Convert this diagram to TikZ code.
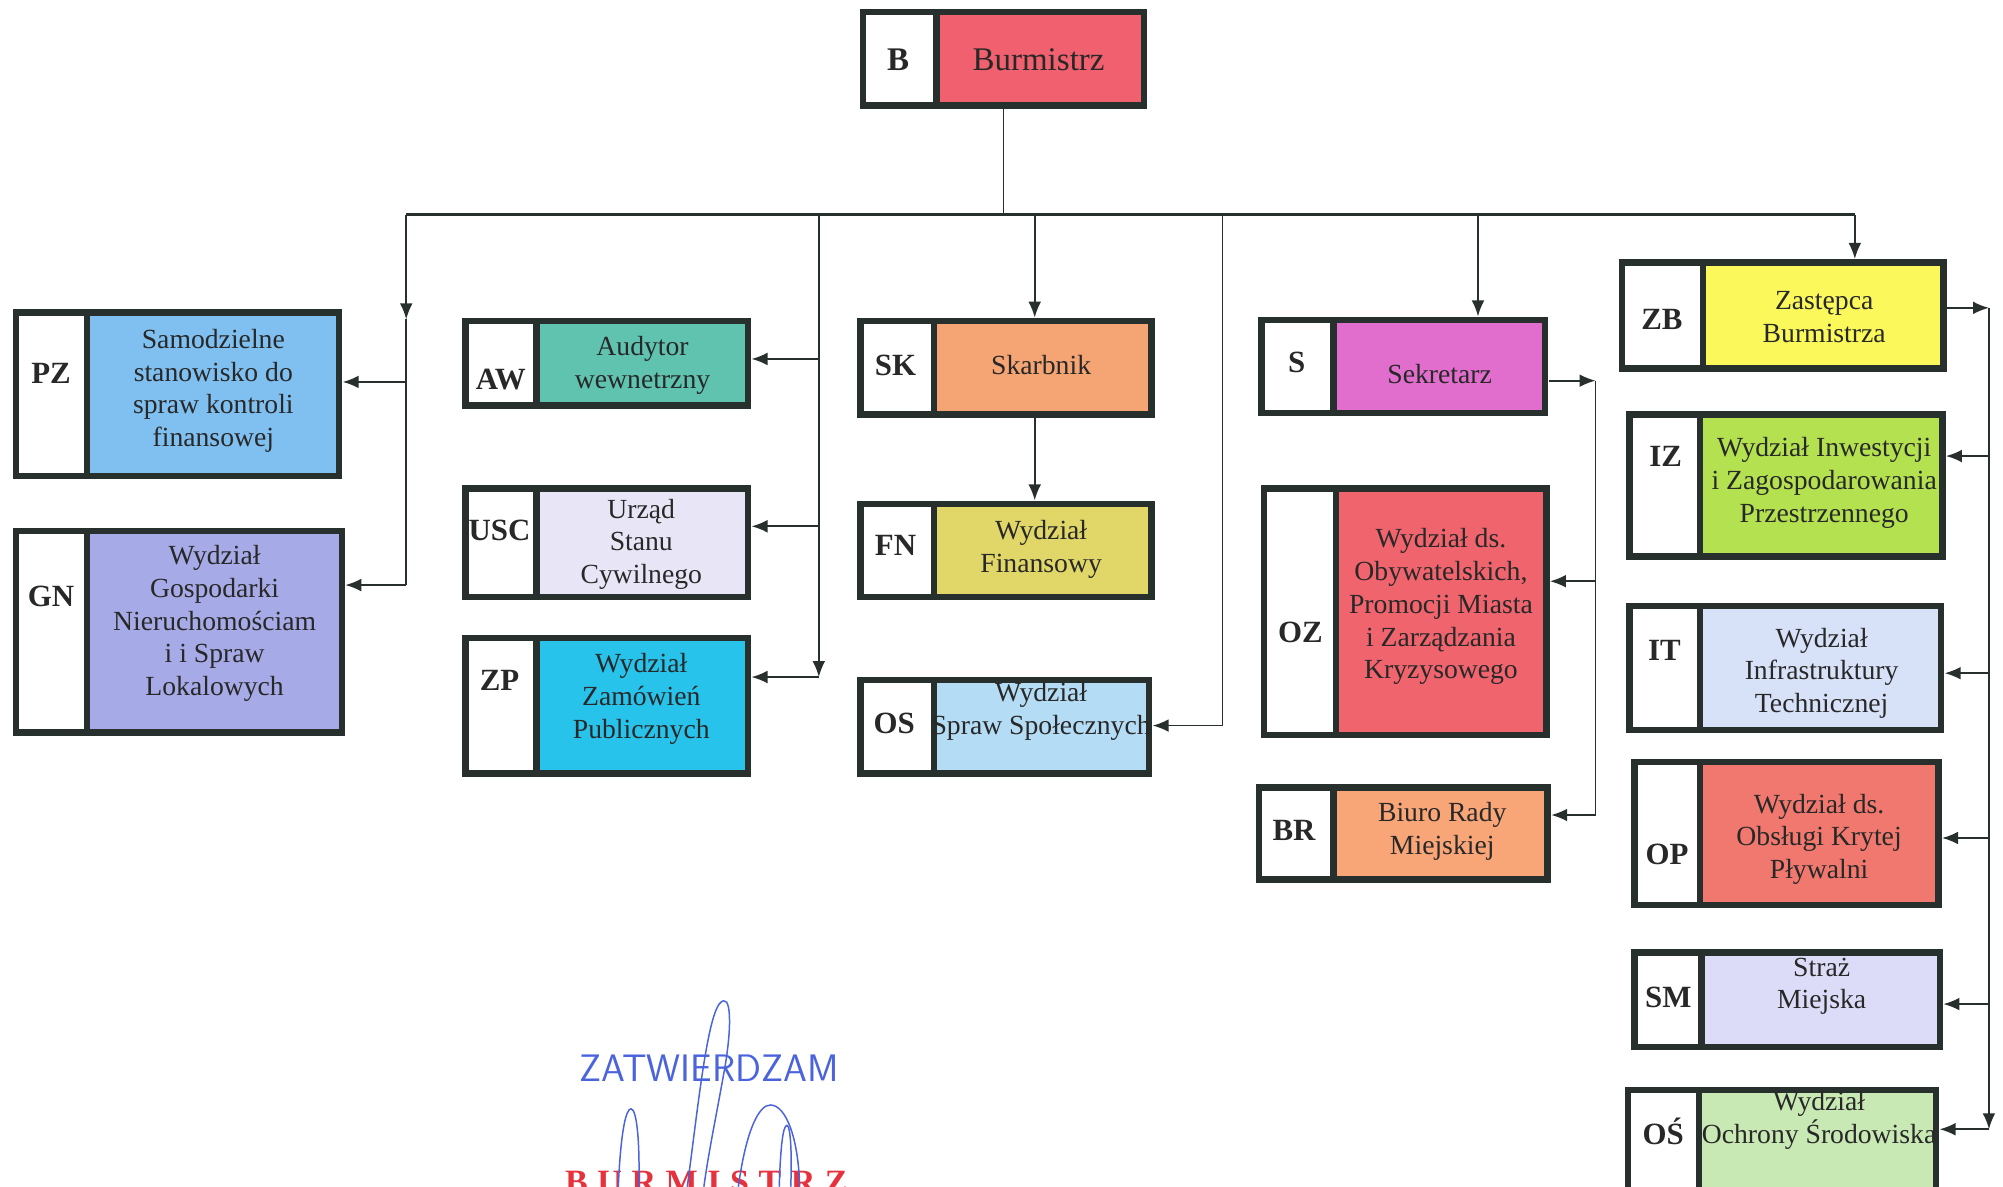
\documentclass[tikz,border=0pt]{standalone}
\usepackage{fontspec}
\setmainfont{Liberation Serif}
\usetikzlibrary{arrows.meta,fit}
\definecolor{cLine}{RGB}{40,48,46}
\definecolor{cTxt}{RGB}{40,40,40}
\definecolor{cB}{RGB}{240,96,110}
\definecolor{cPZ}{RGB}{127,192,240}
\definecolor{cGN}{RGB}{166,170,230}
\definecolor{cAW}{RGB}{95,195,176}
\definecolor{cUSC}{RGB}{232,230,246}
\definecolor{cZP}{RGB}{40,195,235}
\definecolor{cSK}{RGB}{245,165,115}
\definecolor{cFN}{RGB}{225,215,105}
\definecolor{cOS}{RGB}{180,220,245}
\definecolor{cS}{RGB}{225,110,205}
\definecolor{cOZ}{RGB}{240,100,110}
\definecolor{cBR}{RGB}{248,165,120}
\definecolor{cZB}{RGB}{250,248,90}
\definecolor{cIZ}{RGB}{180,225,80}
\definecolor{cIT}{RGB}{215,225,248}
\definecolor{cOP}{RGB}{240,120,110}
\definecolor{cSM}{RGB}{220,220,248}
\definecolor{cOSr}{RGB}{200,232,180}
\definecolor{cSig}{RGB}{75,100,220}
\definecolor{cRed}{RGB}{230,50,60}
\newcommand\obox[7]{%
  \fill[#7] (#4,#3) rectangle (#5,#6);
  \fill[white] (#2,#3) rectangle (#4,#6);
  \draw[boxline] ({#2+2.5},{#3+2.5}) rectangle ({#5-2.5},{#6-2.5});
  \draw[boxline] (#4,#3) -- (#4,#6);
  \node[fit={(#2,#3) (#5,#6)}, inner sep=0pt] (#1) {};
}
\begin{document}
\begin{tikzpicture}[x=0.6pt,y=-0.6pt,
  boxline/.style={draw=cLine, line width=3pt},
  txt/.style={font=\fontsize{13}{15.4}\selectfont, align=center, inner sep=0pt, text=cTxt},
  code/.style={font=\fontsize{14.5}{16}\selectfont\bfseries, inner sep=0pt, text=cTxt},
  conn/.style={draw=cLine, line width=0.8pt},
  arr/.style={-{Latex[length=7.5pt,width=6pt]}},
  sig/.style={draw=cSig, line width=0.7pt}]
\useasboundingbox (0,0) rectangle (1568,929);
\begin{scope}
\clip (0,0) rectangle (1568,929);
% boxes
\obox{B}{673}{7}{733}{898}{85}{cB}
\obox{PZ}{10}{242}{68}{268}{375}{cPZ}
\obox{GN}{10}{413}{68}{270}{576}{cGN}
\obox{AW}{362}{249}{420}{588}{320}{cAW}
\obox{USC}{362}{380}{420}{588}{470}{cUSC}
\obox{ZP}{362}{497}{420}{588}{608}{cZP}
\obox{SK}{671}{249}{731}{904}{327}{cSK}
\obox{FN}{671}{392}{731}{904}{470}{cFN}
\obox{OS}{671}{530}{731}{902}{608}{cOS}
\obox{S}{985}{248}{1044}{1212}{326}{cS}
\obox{OZ}{987}{380}{1046}{1213}{578}{cOZ}
\obox{BR}{983}{614}{1044}{1214}{691}{cBR}
\obox{ZB}{1267}{203}{1333}{1524}{291}{cZB}
\obox{IZ}{1273}{322}{1331}{1523}{438}{cIZ}
\obox{IT}{1273}{472}{1331}{1522}{574}{cIT}
\obox{OP}{1277}{594}{1331}{1520}{711}{cOP}
\obox{SM}{1277}{743}{1332}{1521}{822}{cSM}
\obox{OSr}{1272}{851}{1330}{1518}{940}{cOSr}
% codes
\node[code, font=\fontsize{15.5}{17}\selectfont\bfseries] (Bc) at (703,47) {B};
\node[code] (PZc) at (40,292) {PZ};
\node[code] (GNc) at (40,467) {GN};
\node[code] (AWc) at (392,297) {AW};
\node[code] (USCc) at (391,415) {USC};
\node[code] (ZPc) at (391,533) {ZP};
\node[code] (SKc) at (701,286) {SK};
\node[code] (FNc) at (701,427) {FN};
\node[code] (OSc) at (700,566) {OS};
\node[code] (Sc) at (1015,284) {S};
\node[code] (OZc) at (1018,495) {OZ};
\node[code] (BRc) at (1013,650) {BR};
\node[code] (ZBc) at (1301,250) {ZB};
\node[code] (IZc) at (1304,357) {IZ};
\node[code] (ITc) at (1303,509) {IT};
\node[code] (OPc) at (1305,669) {OP};
\node[code] (SMc) at (1306,781) {SM};
\node[code] (OSrc) at (1302,886) {OŚ};
% texts
\node[txt, font=\fontsize{15.5}{17}\selectfont] (Bt) at (813,47) {Burmistrz};
\node[txt] (PZt) at (167,306) {Samodzielne\\stanowisko do\\spraw kontroli\\finansowej};
\node[txt] (GNt) at (168,488) {Wydział\\Gospodarki\\Nieruchomościam\\i i Spraw\\Lokalowych};
\node[txt] (AWt) at (503,286) {Audytor\\wewnetrzny};
\node[txt] (USCt) at (502,426) {Urząd\\Stanu\\Cywilnego};
\node[txt] (ZPt) at (502,547) {Wydział\\Zamówień\\Publicznych};
\node[txt] (SKt) at (815,286) {Skarbnik};
\node[txt] (FNt) at (815,430) {Wydział\\Finansowy};
\node[txt] (OSt) at (815,557) {Wydział\\Spraw Społecznych};
\node[txt] (St) at (1127,293) {Sekretarz};
\node[txt] (OZt) at (1128,475) {Wydział ds.\\Obywatelskich,\\Promocji Miasta\\i Zarządzania\\Kryzysowego};
\node[txt] (BRt) at (1129,651) {Biuro Rady\\Miejskiej};
\node[txt] (ZBt) at (1428,248) {Zastępca\\Burmistrza};
\node[txt] (IZt) at (1428,378) {Wydział Inwestycji\\i Zagospodarowania\\Przestrzennego};
\node[txt] (ITt) at (1426,527) {Wydział\\Infrastruktury\\Technicznej};
\node[txt] (OPt) at (1424,657) {Wydział ds.\\Obsługi Krytej\\Pływalni};
\node[txt] (SMt) at (1426,772) {Straż\\Miejska};
\node[txt] (OSrt) at (1424,877) {Wydział\\Ochrony Środowiska};
% bus
\coordinate (bL) at (318,168);
\coordinate (bR) at (1452,168);
\draw[conn, line width=1.1pt] (bL) -- (bR);
\draw[conn] (B.south) -- (B.south |- bL);
% column 1
\coordinate (c1a) at (318,250);
\coordinate (c1p) at (318,299);
\coordinate (c1b) at (318,458);
\draw[conn,arr] (bL) -- (c1a);
\draw[conn] (c1a) -- (c1b);
\draw[conn,arr] (c1p) -- (c1p -| PZ.east);
\draw[conn,arr] (c1b) -- (c1b -| GN.east);
% column 2
\coordinate (c2) at (641,168);
\coordinate (c2a) at (641,281);
\coordinate (c2b) at (641,412);
\coordinate (c2c) at (641,530);
\draw[conn,arr] (c2) -- (c2c);
\draw[conn,arr] (c2a) -- (c2a -| AW.east);
\draw[conn,arr] (c2b) -- (c2b -| USC.east);
\draw[conn,arr] (c2c) -- (c2c -| ZP.east);
% column 3
\coordinate (c3) at (810,168);
\draw[conn,arr] (c3) -- (c3 |- SK.north);
\draw[conn,arr] (c3 |- SK.south) -- (c3 |- FN.north);
% column 4
\coordinate (c4) at (957,168);
\coordinate (c4a) at (957,568);
\draw[conn,arr] (c4) -- (c4a) -- (c4a -| OS.east);
% column 5
\coordinate (c5) at (1157,168);
\draw[conn,arr] (c5) -- (c5 |- S.north);
% column 6
\coordinate (c6) at (1452,168);
\draw[conn,arr] (c6) -- (c6 |- ZB.north);
% Sekretarz branch
\coordinate (s1) at (1249,298);
\coordinate (s2) at (1249,455);
\coordinate (s3) at (1249,638);
\draw[conn,arr] (s1 -| S.east) -- (s1);
\draw[conn] (s1) -- (s3);
\draw[conn,arr] (s2) -- (s2 -| OZ.east);
\draw[conn,arr] (s3) -- (s3 -| BR.east);
% Zastepca branch
\coordinate (z1) at (1557,241);
\coordinate (z2) at (1557,357);
\coordinate (z3) at (1557,527);
\coordinate (z4) at (1557,656);
\coordinate (z5) at (1557,786);
\coordinate (z6) at (1557,884);
\draw[conn,arr] (z1 -| ZB.east) -- (z1);
\draw[conn,arr] (z1) -- (z6);
\draw[conn,arr] (z2) -- (z2 -| IZ.east);
\draw[conn,arr] (z3) -- (z3 -| IT.east);
\draw[conn,arr] (z4) -- (z4 -| OP.east);
\draw[conn,arr] (z5) -- (z5 -| SM.east);
\draw[conn,arr] (z6) -- (z6 -| OSr.east);
% approval stamp
\node[font=\sffamily\fontsize{18}{18}\selectfont\addfontfeature{LetterSpace=4}, text=cSig, inner sep=0pt] (zatw) at (555,836) {ZATWIERDZAM};
\node[font=\fontsize{16}{16}\selectfont\bfseries\addfontfeature{LetterSpace=28}, text=cRed, inner sep=0pt, anchor=base] (burm) at (553,934) {BURMISTRZ};
\draw[sig] (538,929) .. controls (546,870) and (553,800) .. (563,786) .. controls (573,774) and (573,805) .. (567,838) .. controls (561,872) and (555,900) .. (551,929);
\draw[sig] (484,929) .. controls (486,885) and (490,868) .. (494,868) .. controls (499,868) and (501,900) .. (500,929);
\draw[sig] (578,929) .. controls (584,885) and (594,865) .. (603,865) .. controls (615,865) and (625,890) .. (626,929);
\draw[sig] (610,929) .. controls (611,897) and (613,881) .. (616,881) .. controls (619,881) and (620,905) .. (619,929);
\end{scope}
\end{tikzpicture}
\end{document}
